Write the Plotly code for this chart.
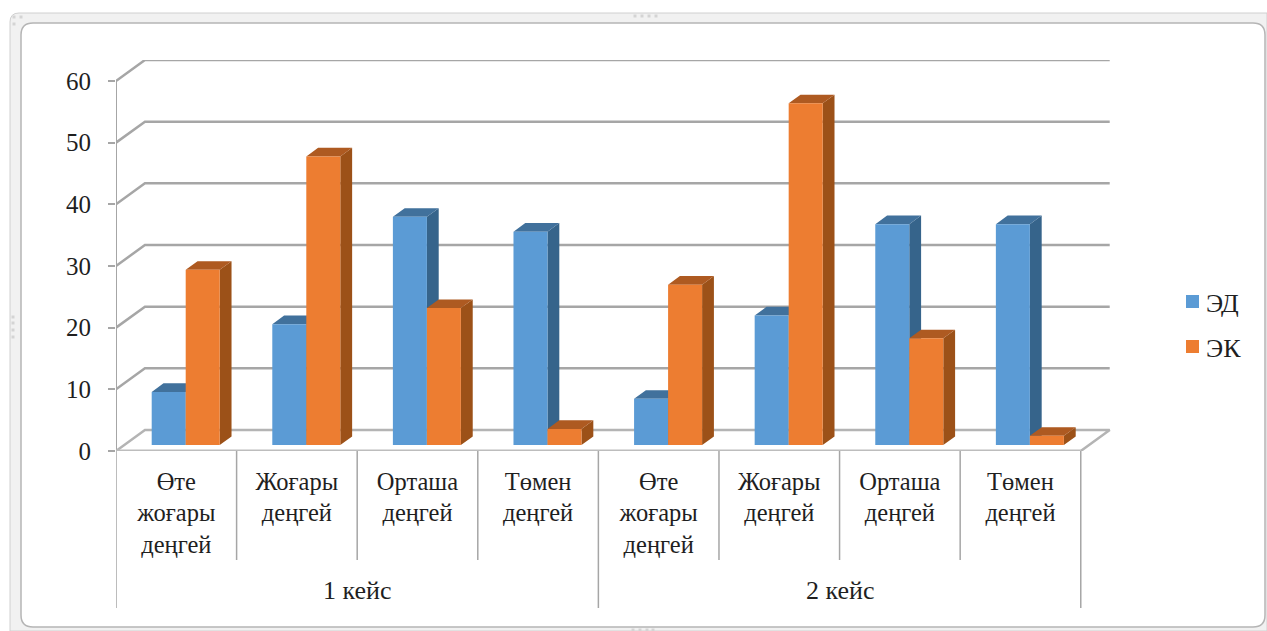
import plotly.graph_objects as go

# Деректер
levels = ['Өте<br>жоғары<br>деңгей', 'Жоғары<br>деңгей', 'Орташа<br>деңгей', 'Төмен<br>деңгей',
          'Өте<br>жоғары<br>деңгей', 'Жоғары<br>деңгей', 'Орташа<br>деңгей', 'Төмен<br>деңгей']
cases = ['1 кейс', '2 кейс']
series_names = ['ЭД', 'ЭК']
ed_values = [8.6, 19.6, 37, 34.6, 7.5, 21, 35.8, 35.8]
ek_values = [28.4, 46.8, 22.2, 2.6, 26, 55.4, 17.3, 1.5]
y_ticks = [0, 10, 20, 30, 40, 50, 60]

W, H = 1267, 631
FONT = 'Liberation Serif'
TEXT = '#1f1f1f'
GRID = '#a6a6a6'
BLUE, ORANGE = '#5b9bd5', '#ed7d31'

# Псевдо-3D параметрлері (ось бірліктерінде)
BACK_X, BACK_Y = 0.24, 3.4
BAR_W = 0.282
BAR_START = 0.296
BAR_BASE = 0.97
SIDE_X, SIDE_Y = 0.098, 1.4


def px(x):
    return x / W


def py(y):
    return 1 - y / H


def prism(xs, values):
    # Бағанның жоғарғы және бүйір жақтары
    top_x, top_y, side_x, side_y = [], [], [], []
    for x, v in zip(xs, values):
        t = BAR_BASE + v
        top_x += [x, x + BAR_W, x + BAR_W + SIDE_X, x + SIDE_X, x, None]
        top_y += [t, t, t + SIDE_Y, t + SIDE_Y, t, None]
        side_x += [x + BAR_W, x + BAR_W + SIDE_X, x + BAR_W + SIDE_X, x + BAR_W, x + BAR_W, None]
        side_y += [BAR_BASE, BAR_BASE + SIDE_Y, t + SIDE_Y, t, BAR_BASE, None]
    return top_x, top_y, side_x, side_y


def dot(x, y):
    return dict(type='rect', xref='paper', yref='paper', layer='below', x0=px(x - 1.5), x1=px(x + 1.5),
                y0=py(y + 1.5), y1=py(y - 1.5), fillcolor='#d4d4d4', line=dict(width=0))


fig = go.Figure()

# Тор сызықтары
for t in y_ticks[1:]:
    fig.add_trace(go.Scatter(x=[0, BACK_X, 8 + BACK_X], y=[t, t + BACK_Y, t + BACK_Y], mode='lines',
                             line=dict(color=GRID, width=2.5), showlegend=False, hoverinfo='skip'))
fig.add_trace(go.Scatter(x=[0, BACK_X, 8 + BACK_X, 8], y=[0, BACK_Y, BACK_Y, 0], mode='lines',
                         line=dict(color='#b4b4b4', width=2.5), showlegend=False, hoverinfo='skip'))
fig.add_trace(go.Scatter(x=[0, 0], y=[0, 60], mode='lines',
                         line=dict(color=GRID, width=2), showlegend=False, hoverinfo='skip'))
fig.add_trace(go.Scatter(x=[0, 8], y=[0, 0], mode='lines', cliponaxis=False,
                         line=dict(color='#bdbdbd', width=3), showlegend=False, hoverinfo='skip'))

x_ed = [i + BAR_START for i in range(8)]
x_ek = [i + BAR_START + BAR_W for i in range(8)]

# Бүйір жақтар: алдымен ЭД, содан кейін ЭК
for xs, vals, top_col, side_col in [(x_ed, ed_values, '#41719c', '#36648b'),
                                    (x_ek, ek_values, '#ae5a21', '#9c5118')]:
    tx, ty, sx, sy = prism(xs, vals)
    fig.add_trace(go.Scatter(x=sx, y=sy, mode='lines', fill='toself', fillcolor=side_col,
                             line=dict(width=0), showlegend=False, hoverinfo='skip'))
    fig.add_trace(go.Scatter(x=tx, y=ty, mode='lines', fill='toself', fillcolor=top_col,
                             line=dict(width=0), showlegend=False, hoverinfo='skip'))

# Алдыңғы жақтар
fig.add_trace(go.Bar(x=[x + BAR_W / 2 for x in x_ed], y=ed_values, base=BAR_BASE, width=BAR_W, name=series_names[0],
                     marker=dict(color=BLUE, line=dict(width=0)), xaxis='x2', yaxis='y2', showlegend=False))
fig.add_trace(go.Bar(x=[x + BAR_W / 2 for x in x_ek], y=ek_values, base=BAR_BASE, width=BAR_W, name=series_names[1],
                     marker=dict(color=ORANGE, line=dict(width=0)), xaxis='x2', yaxis='y2', showlegend=False))

# Сыртқы жақтау
shapes = [
    dict(type='path', xref='paper', yref='paper', layer='below',
         path=f'M {px(10)},{py(631)} L {px(10)},{py(22)} Q {px(10)},{py(13)} {px(19)},{py(13)} '
              f'L {px(1267)},{py(13)} L {px(1267)},{py(631)} Z',
         fillcolor='#f1f1f1', line=dict(color='#d0d0d0', width=1)),
    dict(type='path', xref='paper', yref='paper', layer='below',
         path=f'M {px(21)},{py(615)} Q {px(21)},{py(627)} {px(33)},{py(627)} L {px(1253)},{py(627)} '
              f'Q {px(1265)},{py(627)} {px(1265)},{py(615)} L {px(1265)},{py(35)} Q {px(1265)},{py(23)} {px(1253)},{py(23)} '
              f'L {px(33)},{py(23)} Q {px(21)},{py(23)} {px(21)},{py(35)} Z',
         fillcolor='white', line=dict(color='#b5b5b5', width=1.5)),
]

# Жақтаудағы тұтқа нүктелері
for x, y in [(635, 16), (642, 16), (649, 16), (656, 16),
             (13, 317), (13, 323), (13, 330), (13, 337),
             (633, 630), (640, 630), (647, 630), (653, 630),
             (14, 17), (21, 17), (14, 24)]:
    shapes.append(dot(x, y))

# Санат бөлгіштері
for i in range(9):
    bottom = 608 if i in (0, 4, 8) else 560
    shapes.append(dict(type='line', xref='x', yref='paper', x0=i, x1=i, y0=py(451), y1=py(bottom),
                       line=dict(color='#a6a6a6', width=1.5)))

annotations = [dict(text=c, xref='x', yref='paper', x=2 + 4 * i, y=py(590), yanchor='middle', showarrow=False,
                    font=dict(family=FONT, size=26, color=TEXT)) for i, c in enumerate(cases)]

# Шартты белгілер
for name, color, y_mid in zip(series_names, [BLUE, ORANGE], [301.5, 346.5]):
    shapes.append(dict(type='rect', xref='paper', yref='paper', x0=px(1186), x1=px(1199),
                       y0=py(y_mid + 6.5), y1=py(y_mid - 6.5), fillcolor=color, line=dict(width=0)))
    annotations.append(dict(text=name, xref='paper', yref='paper', x=px(1204), y=py(y_mid + 1.5),
                            xanchor='left', yanchor='middle', showarrow=False,
                            font=dict(family=FONT, size=26, color=TEXT)))

x_range = [0, 8 + BACK_X + 0.019]
y_range = [0, 60 + BACK_Y]

fig.update_layout(
    width=W, height=H,
    margin=dict(l=0, r=0, t=0, b=0),
    paper_bgcolor='white', plot_bgcolor='rgba(0,0,0,0)',
    barmode='overlay',
    showlegend=False,
    font=dict(family=FONT, size=25, color=TEXT),
    shapes=shapes, annotations=annotations,
    xaxis=dict(domain=[px(116), px(1112)], range=x_range, tickmode='array', automargin=False,
               tickvals=[i + 0.5 for i in range(8)], ticktext=levels, ticks='',
               tickfont=dict(family=FONT, size=24.5, color=TEXT),
               showgrid=False, zeroline=False, showline=False, ticklabelstandoff=13),
    yaxis=dict(domain=[py(451), py(60)], range=y_range, tickmode='array', tickvals=y_ticks, automargin=False,
               ticks='outside', ticklen=7, tickwidth=2, tickcolor=GRID,
               showgrid=False, zeroline=False, showline=False, ticklabelstandoff=12),
    xaxis2=dict(domain=[px(116), px(1112)], range=x_range, overlaying='x', visible=False),
    yaxis2=dict(domain=[py(451), py(60)], range=y_range, overlaying='y', visible=False),
)

fig.write_html("out.html", config={'displayModeBar': False}, post_script="document.body.style.margin='0';")
